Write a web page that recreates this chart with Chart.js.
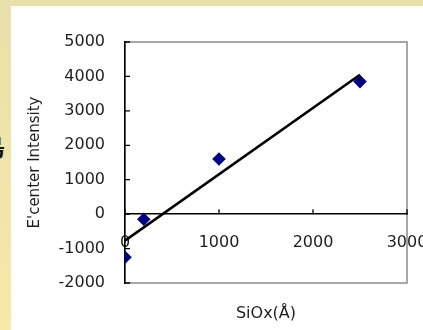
<!DOCTYPE html>
<html lang="ja">
<head>
<meta charset="utf-8">
<script src="https://cdn.jsdelivr.net/npm/chart.js@4.4.1/dist/chart.umd.min.js"></script>
<style>
  html, body { margin: 0; padding: 0; }
  body {
    width: 423px; height: 330px; overflow: hidden; position: relative;
    background: linear-gradient(to bottom, #e8e0aa 0%, #f9e8a7 100%);
  }
  #panel { position: absolute; left: 11px; top: 6px; right: 0; bottom: 0; background: #fff; }
  #edge { position: absolute; left: -19px; top: 134px; font: bold 24px/24px "Noto Sans CJK JP"; color: #111; }
  canvas { position: absolute; left: 0; top: 0; }
</style>
</head>
<body>
<div id="panel"></div>
<div id="edge">島</div>
<canvas id="grafikEcenter" width="423" height="330"></canvas>
<script>
// data
const xTickValues = [0, 1000, 2000, 3000];
const yTickValues = [-2000, -1000, 0, 1000, 2000, 3000, 4000, 5000];
const sioxThickness = [0, 200, 1000, 2500];          // SiOx (Å)
const ecenterIntensity = [-1250, -150, 1600, 3850];
const trendThickness = [0, 2500];                    // linear trend line ends
const trendIntensity = [-770, 4050];

const tickFont = { family: "'DejaVu Sans', sans-serif", size: 16 };

// gray plot frame (under the black axes) + short inner tick marks
const frameAndTicks = {
    id: 'frameAndTicks',
    beforeDraw(chart) {
        const { ctx, chartArea: a } = chart;
        ctx.save();
        ctx.strokeStyle = '#8a8a8a';
        ctx.lineWidth = 1.5;
        ctx.strokeRect(a.left, a.top, a.right - a.left, a.bottom - a.top);
        ctx.restore();
    },
    beforeDatasetsDraw(chart) {
        const { ctx, chartArea: a, scales: { x, y } } = chart;
        const y0 = y.getPixelForValue(0);
        ctx.save();
        ctx.strokeStyle = '#000';
        ctx.lineWidth = 1.3;
        ctx.beginPath();
        x.ticks.forEach(t => {
            const px = x.getPixelForValue(t.value);
            ctx.moveTo(px, y0);
            ctx.lineTo(px, y0 - 5);
        });
        y.ticks.forEach(t => {
            const py = y.getPixelForValue(t.value);
            ctx.moveTo(a.left, py);
            ctx.lineTo(a.left + 5, py);
        });
        ctx.stroke();
        ctx.restore();
    }
};

new Chart(document.getElementById('grafikEcenter'), {
    type: 'scatter',
    data: {
        datasets: [
            {
                label: 'trend',
                data: trendThickness.map((v, i) => ({ x: v, y: trendIntensity[i] })),
                showLine: true,
                borderColor: '#000',
                borderWidth: 2.6,
                pointRadius: 0,
                order: 0
            },
            {
                label: "E'center Intensity",
                data: sioxThickness.map((v, i) => ({ x: v, y: ecenterIntensity[i] })),
                pointStyle: 'rectRot',
                pointRadius: 6.8,
                backgroundColor: '#000080',
                borderColor: '#000080',
                borderWidth: 0,
                order: 1
            }
        ]
    },
    options: {
        responsive: false,
        devicePixelRatio: 1,
        animation: false,
        layout: { padding: { top: 42, right: 16, bottom: 47, left: 0 } },
        plugins: {
            legend: { display: false },
            tooltip: { enabled: false }
        },
        scales: {
            x: {
                type: 'linear',
                position: { y: 0 },
                min: 0,
                max: 3000,
                afterBuildTicks: s => { s.ticks = xTickValues.map(v => ({ value: v })); },
                afterFit: s => { s.height = 109; s.paddingLeft = 0; s.paddingRight = 0; },
                grid: { display: false, drawTicks: false },
                border: { display: true, color: '#000', width: 1.5 },
                ticks: {
                    padding: 19,
                    color: '#1e1e1e',
                    font: tickFont,
                    maxRotation: 0,
                    callback: v => String(v)
                },
                title: {
                    display: true,
                    text: 'SiOx(Å)',
                    color: '#1e1e1e',
                    padding: 0,
                    font: { family: "'DejaVu Sans', sans-serif", size: 16 }
                }
            },
            y: {
                type: 'linear',
                position: 'left',
                min: -2000,
                max: 5000,
                afterBuildTicks: s => { s.ticks = yTickValues.map(v => ({ value: v })); },
                afterFit: s => { s.width = 125; },
                grid: { display: false, drawTicks: false },
                border: { display: true, color: '#000', width: 1.5 },
                ticks: {
                    padding: 20,
                    color: '#1e1e1e',
                    font: tickFont,
                    callback: v => String(v)
                },
                title: {
                    display: true,
                    text: "E'center Intensity",
                    color: '#1e1e1e',
                    padding: { top: 26, bottom: 0 },
                    font: { family: "'DejaVu Sans', sans-serif", size: 15 }
                }
            }
        }
    },
    plugins: [frameAndTicks]
});
</script>
</body>
</html>
